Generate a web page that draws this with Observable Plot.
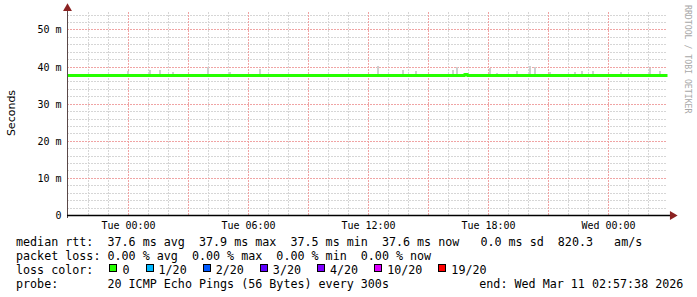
<!DOCTYPE html>
<html><head><meta charset="utf-8">
<script src="https://cdn.jsdelivr.net/npm/d3@7"></script>
<script src="https://cdn.jsdelivr.net/npm/@observablehq/plot@0.6"></script>
<style>
html,body{margin:0;padding:0;background:#fff;}
#wrap{position:relative;width:697px;height:297px;overflow:hidden;font-family:"DejaVu Sans Mono",monospace;}
#chart{position:absolute;left:0;top:0;}
.lg{position:absolute;font-size:11.7px;line-height:14px;white-space:pre;color:#000;}
.box{display:inline-block;width:6px;height:6px;border:1px solid #000;vertical-align:2px;margin-right:5px;}
#ylab{position:absolute;left:11px;top:113px;transform:translate(-50%,-50%) rotate(-90deg);font-family:"DejaVu Sans",sans-serif;font-size:11px;white-space:nowrap;}
#mark{position:absolute;left:683px;top:5px;writing-mode:vertical-rl;font-size:8.2px;color:#a8a8a8;white-space:nowrap;}
</style></head>
<body>
<div id="wrap">
  <div id="chart"></div>
  <div id="ylab">Seconds</div>
  <div id="mark">RRDTOOL / TOBI OETIKER</div>
  <div class="lg" id="l1" style="left:16px;top:234.6px"></div>
  <div class="lg" id="l2" style="left:16px;top:248.6px"></div>
  <div class="lg" id="l3" style="left:16px;top:262.6px"></div>
  <div class="lg" id="l4" style="left:16px;top:276.6px"></div>
  <div class="lg" id="l4e" style="left:479.3px;top:276.6px"></div>
</div>
<script>
// ---- data (hours relative to Tue 00:00, values in ms) ----
const medianHours  = [-3.04, 16.81, 16.96, 26.96];
const medianValues = [37.6, 37.9, 37.6, 37.6];
const smokeHours = [-2.64, -0.64, 0.01, 1.11, 1.61, 2.26, 4.01, 5.11, 6.61, 8.61, 12.51, 13.76, 14.41, 16.26, 16.46,
                    18.11, 18.46, 19.46, 20.11, 20.36, 20.71, 21.11, 22.36, 22.71, 23.26, 24.66, 26.11, 26.61];
const smokeTops  = [38.0, 38.0, 38.7, 39.1, 39.1, 38.6, 40.0, 38.5, 39.3, 38.0, 40.2, 39.1, 38.8, 39.1, 39.8,
                    39.6, 38.2, 38.9, 40.1, 40.0, 38.1, 38.5, 38.4, 38.7, 38.7, 38.6, 39.7, 38.8];
const xTickHours  = [0, 6, 12, 18, 24];
const xTickLabels = ["Tue 00:00", "Tue 06:00", "Tue 12:00", "Tue 18:00", "Wed 00:00"];
const yTicks      = [0, 10, 20, 30, 40, 50];
const yTickLabels = ["0", "10 m", "20 m", "30 m", "40 m", "50 m"];
const lossLabels  = ["0", "1/20", "2/20", "3/20", "4/20", "10/20", "19/20"];
const lossColors  = ["#26ff00", "#00b8ff", "#0059ff", "#5e00ff", "#7e00ff", "#dd00ff", "#ff0000"];
const legendLine1 = "median rtt:  37.6 ms avg  37.9 ms max  37.5 ms min  37.6 ms now   0.0 ms sd  820.3   am/s";
const legendLine2 = "packet loss: 0.00 % avg  0.00 % max  0.00 % min  0.00 % now";
const legendLine4 = "probe:       20 ICMP Echo Pings (56 Bytes) every 300s";
const legendEnd   = "end: Wed Mar 11 02:57:38 2026";
const medianBase = 37.6;

// ---- build ----
const xDomain = [-3.04, 26.96];
const yMax = 54.7;
const median = medianHours.map((h, i) => ({h, v: medianValues[i]}));
const smoke = smokeHours.map((h, i) => ({h, top: smokeTops[i]}));
const hourGrid = d3.range(-2, 27, 1).filter(h => h % 3 !== 0);
const hourMajor = d3.range(0, 27, 3);
const yMinor = d3.range(2, 55, 2).filter(v => v % 10 !== 0);
const yMajor = [10, 20, 30, 40, 50];

const minorC = "#d6d6d6", majorC = "#f0a4a4";
const chart = Plot.plot({
  width: 697, height: 235,
  marginLeft: 67, marginRight: 30, marginTop: 12, marginBottom: 20,
  style: {fontFamily: "'DejaVu Sans Mono', monospace", fontSize: "10px", color: "#000", background: "transparent"},
  x: {domain: xDomain, round: true, ticks: xTickHours, tickFormat: d => xTickLabels[xTickHours.indexOf(d)], tickSize: 0, tickPadding: 6, label: null},
  y: {domain: [0, yMax], round: true, ticks: yTicks, tickFormat: d => yTickLabels[yTicks.indexOf(d)], tickSize: 0, tickPadding: 6, label: null},
  marks: [
    Plot.ruleY(yMinor, {stroke: minorC, strokeDasharray: "2,1"}),
    Plot.ruleX(hourGrid, {stroke: minorC, strokeDasharray: "2,1"}),
    Plot.ruleY(yMajor, {stroke: majorC, strokeDasharray: "2,1"}),
    Plot.ruleX(hourMajor, {stroke: majorC, strokeDasharray: "2,1"}),
    Plot.rect(smoke, {x1: d => d.h - 0.07, x2: d => d.h + 0.07, y1: medianBase, y2: "top", fill: "#cfcfcf"}),
    Plot.line(median, {x: "h", y: "v", stroke: "#26ff00", strokeWidth: 3, curve: "step-after", strokeLinecap: "butt"}),
    Plot.ruleX([xDomain[0]], {stroke: "#5a4848", insetTop: -3, insetBottom: -3}),
    Plot.ruleY([0], {stroke: "#000", strokeWidth: 1.3, insetRight: -3}),
    Plot.dot([0], {frameAnchor: "top-left", symbol: "triangle", r: 3.3, fill: "#8b2222", stroke: "none", dy: -4}),
    Plot.dot([0], {frameAnchor: "bottom-right", symbol: "triangle", rotate: 90, r: 3.3, fill: "#8b2222", stroke: "none", dx: 5})
  ]
});
document.getElementById("chart").appendChild(chart);

document.getElementById("l1").textContent = legendLine1;
document.getElementById("l2").textContent = legendLine2;
document.getElementById("l4").textContent = legendLine4;
document.getElementById("l4e").textContent = legendEnd;
const l3 = document.getElementById("l3");
l3.appendChild(document.createTextNode("loss color:  "));
lossLabels.forEach((lab, i) => {
  const b = document.createElement("span");
  b.className = "box";
  b.style.background = lossColors[i];
  b.style.marginLeft = i === 0 ? "2px" : "16px";
  l3.appendChild(b);
  l3.appendChild(document.createTextNode(lab));
});
</script>
</body></html>
